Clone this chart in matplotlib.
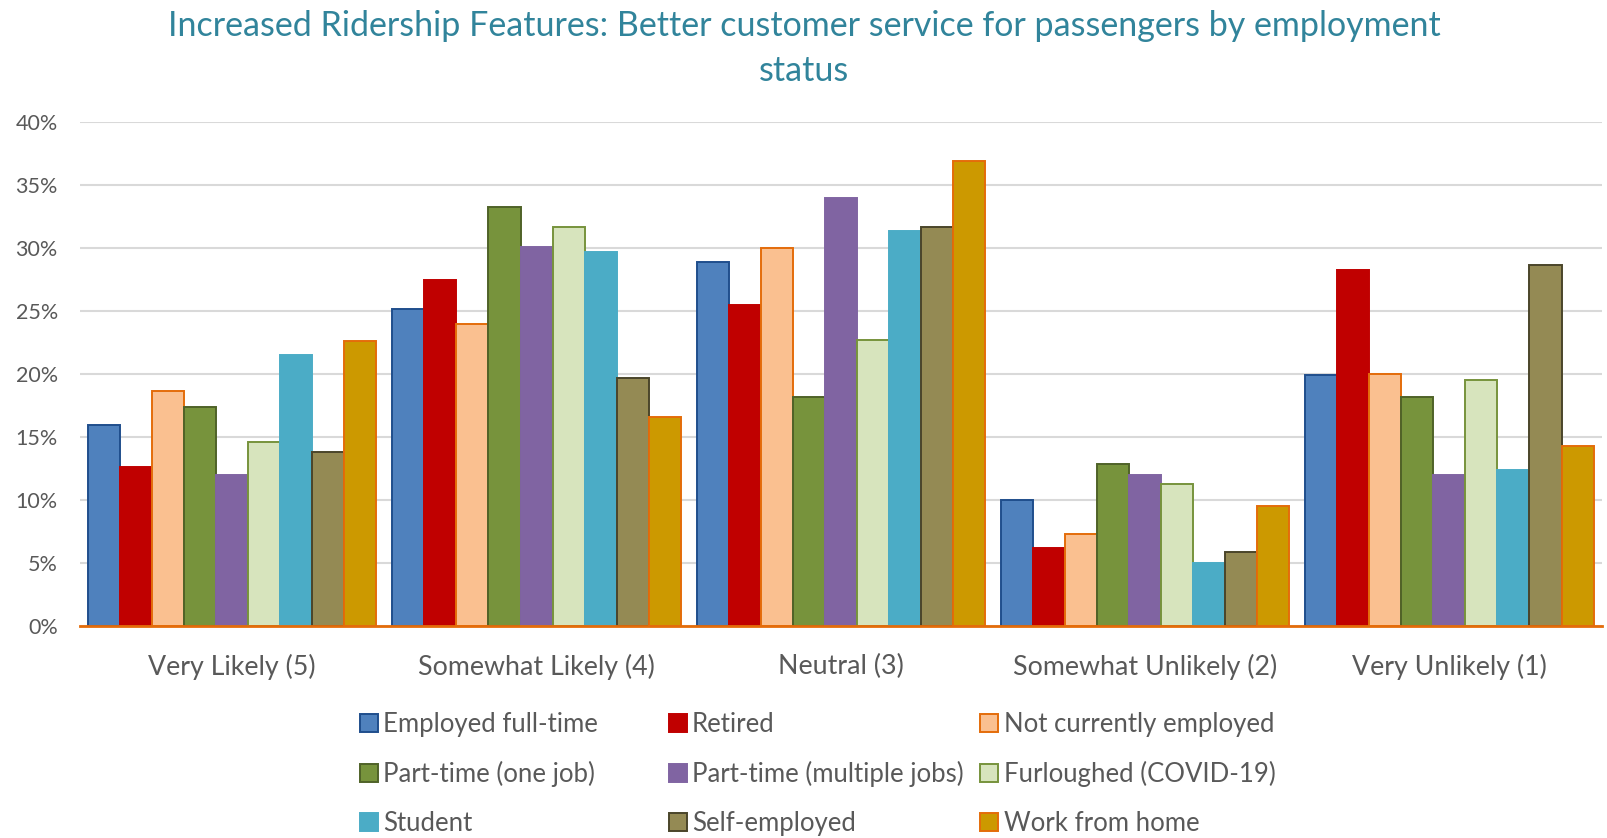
import numpy as np
import matplotlib.pyplot as plt
from matplotlib.patches import Patch
from matplotlib.ticker import PercentFormatter

plt.rcParams['font.family'] = ['Lato', 'DejaVu Sans']

# ---- data ----
categories = ['Very Likely (5)', 'Somewhat Likely (4)', 'Neutral (3)',
              'Somewhat Unlikely (2)', 'Very Unlikely (1)']

groups = ['Employed full-time', 'Retired', 'Not currently employed',
          'Part-time (one job)', 'Part-time (multiple jobs)', 'Furloughed (COVID-19)',
          'Student', 'Self-employed', 'Work from home']

employed_ft = [16.0, 25.2, 28.9, 10.0, 19.9]
retired = [12.6, 27.5, 25.5, 6.2, 28.3]
not_employed = [18.7, 24.0, 30.0, 7.3, 20.0]
pt_one = [17.4, 33.3, 18.2, 12.9, 18.2]
pt_multiple = [12.0, 30.1, 34.0, 12.0, 12.0]
furloughed = [14.6, 31.7, 22.7, 11.3, 19.5]
student = [21.5, 29.7, 31.4, 5.0, 12.4]
self_employed = [13.8, 19.7, 31.7, 5.9, 28.7]
work_from_home = [22.6, 16.6, 36.9, 9.5, 14.3]

values = [employed_ft, retired, not_employed, pt_one, pt_multiple,
          furloughed, student, self_employed, work_from_home]

fills = ['#4F81BD', '#C00000', '#FAC090', '#77933C', '#8064A2',
         '#D7E4BD', '#4BACC6', '#948A54', '#CC9900']
edges = ['#1F4E8C', '#C00000', '#E46C0A', '#4F6228', '#8064A2',
         '#77933C', '#4BACC6', '#4A452A', '#E46C0A']

# ---- figure ----
fig = plt.figure(figsize=(16.08, 8.38), dpi=100)
ax = fig.add_axes([0.0498, 0.253, 0.9462, 0.601])

x = np.arange(len(categories))
n = len(groups)
w = 1 / 9.5
for i in range(n):
    offs = (i - (n - 1) / 2) * w
    ax.bar(x + offs, np.array(values[i]) / 100, width=w, color=fills[i],
           edgecolor=edges[i], linewidth=1.4, label=groups[i], zorder=3)

ax.set_xlim(-0.5, len(categories) - 0.5)
ax.set_ylim(0, 0.40)
ax.set_yticks(np.arange(0, 0.41, 0.05))
ax.yaxis.set_major_formatter(PercentFormatter(1.0, decimals=0))
ax.set_xticks(x)
ax.set_xticklabels(categories)
ax.tick_params(axis='x', length=0, labelsize=19.3, colors='#595959', pad=20)
ax.tick_params(axis='y', length=0, labelsize=15.5, colors='#595959', pad=16)
ax.grid(axis='y', color='#D9D9D9', linewidth=1.5, zorder=0)
for s in ['left', 'right', 'top']:
    ax.spines[s].set_visible(False)
ax.spines['bottom'].set_color('#E46C0A')
ax.spines['bottom'].set_linewidth(2)
ax.spines['bottom'].set_zorder(4)

fig.suptitle('Increased Ridership Features: Better customer service for passengers by employment\nstatus',
             color='#31849B', fontsize=24.5, y=0.988, linespacing=1.5)

# legend: three columns, filled row by row
handles = [Patch(facecolor=fills[i], edgecolor=edges[i], linewidth=1.4) for i in range(n)]
col_x = [0.2239, 0.4158, 0.6097]
for c in range(3):
    idx = [c, c + 3, c + 6]
    leg = fig.legend([handles[i] for i in idx], [groups[i] for i in idx],
                     loc='upper left', bbox_to_anchor=(col_x[c], 0.15),
                     frameon=False, fontsize=18.5, handlelength=0.7, handleheight=0.7,
                     handletextpad=0.2, labelspacing=0.93, borderaxespad=0,
                     borderpad=0)
    for t in leg.get_texts():
        t.set_color('#595959')

fig.savefig('out.png', dpi=100)
